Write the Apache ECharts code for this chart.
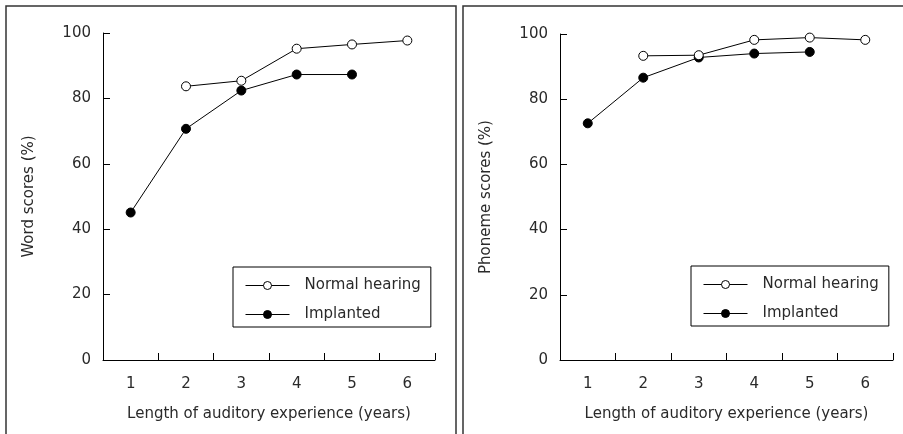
<!DOCTYPE html>
<html>
<head>
<meta charset="utf-8">
<script src="https://cdn.jsdelivr.net/npm/echarts@6/dist/echarts.min.js"></script>
<style>
html,body{margin:0;padding:0;background:#fff;}
#chart{width:903px;height:434px;}
</style>
</head>
<body>
<div id="chart"></div>
<script>
const years = ['1', '2', '3', '4', '5', '6'];
const wordNormal = [null, 83.7, 85.4, 95.2, 96.5, 97.7];
const wordImplanted = [45.1, 70.7, 82.4, 87.3, 87.3, null];
const phonemeNormal = [null, 93.3, 93.5, 98.2, 98.9, 98.2];
const phonemeImplanted = [72.6, 86.6, 92.8, 94.0, 94.5, null];
const yTicks = [0, 20, 40, 60, 80, 100];
const xTitle = 'Length of auditory experience (years)';
const yTitles = ['Word scores (%)', 'Phoneme scores (%)'];
const seriesNames = ['Normal hearing', 'Implanted'];

const FONT = 'DejaVu Sans';
const TXT = '#2a2a2a';

function xAxis(gi) {
  return {
    type: 'category', gridIndex: gi, data: years, boundaryGap: true,
    name: xTitle, nameLocation: 'middle', nameGap: 47,
    nameTextStyle: {fontFamily: FONT, fontSize: 15, color: TXT},
    axisLine: {show: true, lineStyle: {color: '#000', width: 1}},
    axisTick: {show: true, interval: 0, inside: true, length: 7, lineStyle: {color: '#000', width: 1}},
    axisLabel: {fontFamily: FONT, fontSize: 15, color: TXT, margin: 17},
    splitLine: {show: false}
  };
}
function yAxis(gi) {
  return {
    type: 'value', gridIndex: gi, min: yTicks[0], max: yTicks[yTicks.length - 1], interval: 20,
    name: yTitles[gi], nameLocation: 'middle', nameGap: 66,
    nameTextStyle: {fontFamily: FONT, fontSize: 15, color: TXT},
    axisLine: {show: true, lineStyle: {color: '#000', width: 1}},
    axisTick: {show: true, inside: true, length: 7, lineStyle: {color: '#000'}},
    axisLabel: {fontFamily: FONT, fontSize: 15, color: TXT, margin: 12},
    splitLine: {show: false}
  };
}
function normalSeries(gi, data) {
  return {
    name: seriesNames[0], type: 'line', xAxisIndex: gi, yAxisIndex: gi, data: data,
    symbol: 'circle', symbolSize: 9, connectNulls: false,
    itemStyle: {color: '#fff', borderColor: '#000', borderWidth: 1},
    lineStyle: {color: '#000', width: 1}, z: 3
  };
}
function implSeries(gi, data) {
  return {
    name: seriesNames[1], type: 'line', xAxisIndex: gi, yAxisIndex: gi, data: data,
    symbol: 'circle', symbolSize: 9,
    itemStyle: {color: '#000', borderColor: '#000', borderWidth: 1},
    lineStyle: {color: '#000', width: 1}, z: 2
  };
}
function legend(left, top) {
  return {
    data: seriesNames, orient: 'vertical', left: left, top: top,
    itemWidth: 44, itemHeight: 10, itemGap: 14,
    padding: [11, 10, 5, 12],
    borderColor: '#000', borderWidth: 1,
    textStyle: {fontFamily: FONT, fontSize: 15, color: TXT, padding: [0, 0, 0, 10]},
    selectedMode: false,
    itemStyle: {borderWidth: 1},
    lineStyle: {width: 1, color: '#000'}
  };
}

const chart = echarts.init(document.getElementById('chart'), null, {renderer: 'canvas'});
chart.setOption({
  animation: false,
  backgroundColor: '#fff',
  grid: [
    {left: 103, top: 33, right: 468, bottom: 74},
    {left: 560, top: 34, right: 10, bottom: 74}
  ],
  xAxis: [xAxis(0), xAxis(1)],
  yAxis: [yAxis(0), yAxis(1)],
  legend: [legend(233, 267), legend(691, 266)],
  series: [
    normalSeries(0, wordNormal), implSeries(0, wordImplanted),
    normalSeries(1, phonemeNormal), implSeries(1, phonemeImplanted)
  ],
  graphic: [
    {type: 'polyline', shape: {points: [[6, 440], [6, 6], [456, 6], [456, 440]]},
     style: {stroke: '#333', lineWidth: 1.5, fill: null}, silent: true},
    {type: 'polyline', shape: {points: [[463, 440], [463, 6], [910, 6]]},
     style: {stroke: '#333', lineWidth: 1.5, fill: null}, silent: true}
  ]
});
</script>
</body>
</html>
